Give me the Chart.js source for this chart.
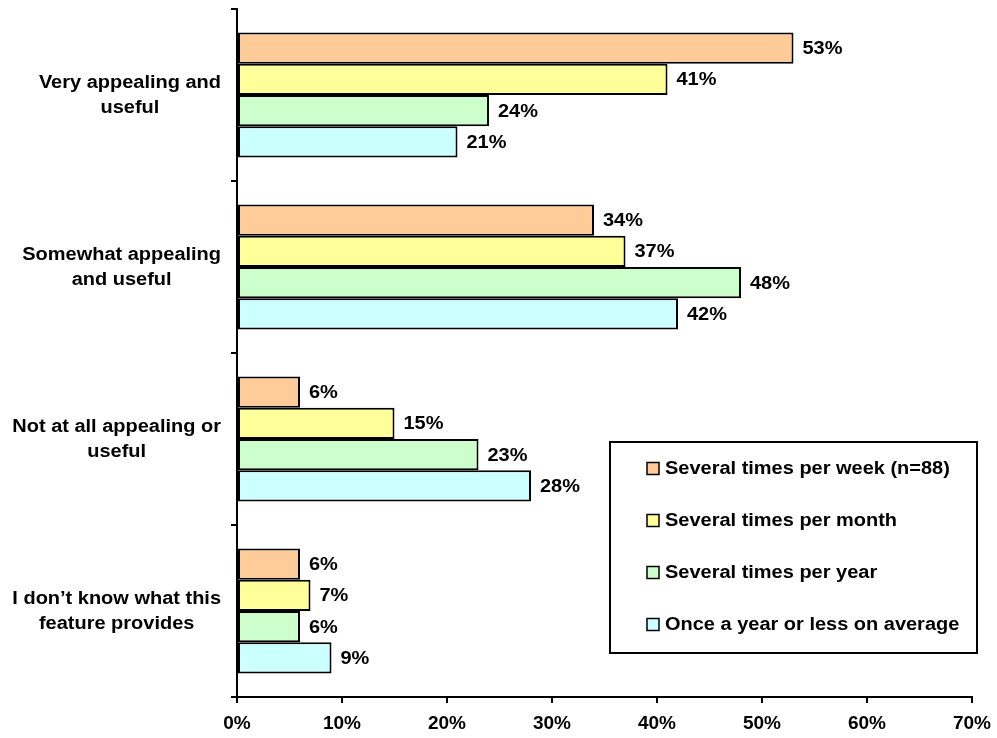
<!DOCTYPE html>
<html>
<head>
<meta charset="utf-8">
<script src="https://cdn.jsdelivr.net/npm/chart.js@4.4.1/dist/chart.umd.min.js"></script>
<style>
html,body{margin:0;padding:0;background:#fff;}
#wrap{width:997px;height:738px;position:relative;}
</style>
</head>
<body>
<div id="wrap"><canvas id="c" width="997" height="738"></canvas></div>
<script>
const categories = [
  ["Very appealing and", "useful"],
  ["Somewhat appealing", "and useful"],
  ["Not at all appealing or", "useful"],
  ["I don\u2019t know what this", "feature provides"]
];
const seriesNames = [
  "Several times per week (n=88)",
  "Several times per month",
  "Several times per year",
  "Once a year or less on average"
];
const weekly = [53, 34, 6, 6];
const monthly = [41, 37, 15, 7];
const yearly = [24, 48, 23, 6];
const rarely = [21, 42, 28, 9];
const xTicks = [0, 10, 20, 30, 40, 50, 60, 70];
const colors = ["#FFCC99", "#FFFF99", "#CCFFCC", "#CCFFFF"];

const FONT = "Liberation Sans, Arial, sans-serif";
const SX = 1.11;

const values = [weekly, monthly, yearly, rarely];
const datasets = values.map((v, i) => ({
  label: seriesNames[i],
  data: v,
  backgroundColor: colors[i],
  borderColor: "#000",
  borderWidth: 2,
  borderSkipped: false,
  categoryPercentage: 0.727,
  barPercentage: 1.0
}));

function drawText(ctx, text, x, y, align) {
  const w = ctx.measureText(text).width * SX;
  let left = x;
  if (align === "center") left = x - w / 2;
  else if (align === "right") left = x - w;
  ctx.save();
  ctx.translate(left, y);
  ctx.scale(SX, 1);
  ctx.textAlign = "left";
  ctx.fillText(text, 0, 0);
  ctx.restore();
}

const labelsPlugin = {
  id: "custom",
  afterDatasetsDraw(chart) {
    const ctx = chart.ctx;
    ctx.save();
    ctx.font = "bold 18px " + FONT;
    ctx.fillStyle = "#000";
    ctx.textBaseline = "middle";
    // data labels
    chart.data.datasets.forEach((ds, di) => {
      const meta = chart.getDatasetMeta(di);
      meta.data.forEach((bar, i) => {
        drawText(ctx, ds.data[i] + "%", bar.x + 9, bar.y + 1, "left");
      });
    });
    // category labels
    const ys = chart.scales.y;
    categories.forEach((lines, i) => {
      const cy = ys.getPixelForValue(i);
      const maxW = Math.max(...lines.map(l => ctx.measureText(l).width * SX));
      const cx = 221 - maxW / 2;
      const lh = 25;
      const y0 = cy - (lines.length - 1) * lh / 2 + 1;
      lines.forEach((l, k) => drawText(ctx, l, cx, y0 + k * lh, "center"));
    });
    // legend
    const bx = 610, by = 442, bw = 367, bh = 211;
    ctx.fillStyle = "#fff";
    ctx.fillRect(bx, by, bw, bh);
    ctx.strokeStyle = "#000";
    ctx.lineWidth = 2;
    ctx.strokeRect(bx, by, bw, bh);
    seriesNames.forEach((name, i) => {
      const cy = 468.5 + i * 52;
      ctx.fillStyle = colors[i];
      ctx.fillRect(647, cy - 6, 12, 12);
      ctx.lineWidth = 1.5;
      ctx.strokeStyle = "#000";
      ctx.strokeRect(647, cy - 6, 12, 12);
      ctx.fillStyle = "#000";
      drawText(ctx, name, 665, cy + 1, "left");
    });
    ctx.restore();
  }
};

new Chart(document.getElementById("c"), {
  type: "bar",
  data: { labels: categories.map(c => c.join(" ")), datasets },
  options: {
    indexAxis: "y",
    responsive: false,
    animation: false,
    layout: { padding: { top: 9, right: 25, left: 0, bottom: 0 } },
    plugins: { legend: { display: false }, tooltip: { enabled: false } },
    scales: {
      x: {
        min: 0, max: 70,
        afterBuildTicks(scale) { scale.ticks = xTicks.map(v => ({ value: v })); },
        afterFit(scale) { scale.height = 41; scale.paddingRight = 0; },
        border: { display: true, color: "#000", width: 2 },
        grid: { display: true, drawOnChartArea: false, drawTicks: true, tickLength: 6, color: "#000", lineWidth: 2 },
        ticks: {
          color: "#000",
          font: { family: FONT, size: 19, weight: "bold" },
          padding: 9,
          maxRotation: 0,
          callback: v => v + "%"
        }
      },
      y: {
        afterFit(scale) { scale.width = 237; },
        border: { display: true, color: "#000", width: 2 },
        grid: { display: true, offset: true, drawOnChartArea: false, drawTicks: true, tickLength: 6, color: "#000", lineWidth: 2 },
        ticks: { display: false }
      }
    }
  },
  plugins: [labelsPlugin]
});
</script>
</body>
</html>
